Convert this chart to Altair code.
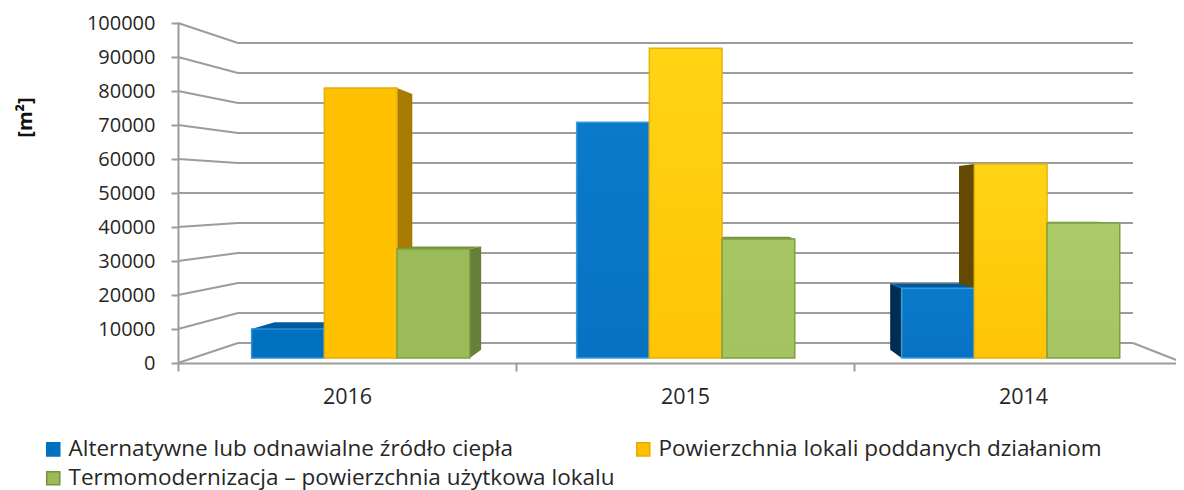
import altair as alt
import pandas as pd

years = ["2016", "2015", "2014"]
series = ["Alternatywne lub odnawialne źródło ciepła",
          "Powierzchnia lokali poddanych działaniom",
          "Termomodernizacja – powierzchnia użytkowa lokalu"]
val_blue = [10000, 70800, 22000]
val_orange = [80900, 92600, 58500]
val_green = [33500, 36500, 41200]
ticks = [0, 10000, 20000, 30000, 40000, 50000, 60000, 70000, 80000, 90000, 100000]

FONT = "Open Sans"
TXT = "#262626"
GRID = "#9c9c9c"
W, H = 998, 340
SLOT = 338.0                 # px per category on the axis
XMAX = W / SLOT
YMAX = 100000
PX = H / YMAX
BASE = 5 / PX                # bars stand slightly in front of the axis
DEPTH = 0.053                # perspective shrink of back faces
VPX = (685 - 178) / SLOT     # vanishing point
VPY = 163 / PX
SPACING = 325 / SLOT
BARW = 72.7 / SLOT
NUDGE = 0.7 / SLOT
WALL_L, WALL_R = 60 / SLOT, 955 / SLOT
WALL_END = 1006 / SLOT

front_fill = {
    (0, 0): ("#0070c0", "#0070c0", "#2f8fd4"), (0, 1): ("#ffc000", "#ffc000", "#e3ad0b"), (0, 2): ("#9bbb59", "#9bbb59", "#7f9e44"),
    (1, 0): ("#0a7acb", "#0872c2", "#3a9ade"), (1, 1): ("#ffd414", "#ffc405", "#e3b40b"), (1, 2): ("#a5c663", "#a3c360", "#7f9e44"),
    (2, 0): ("#0a7acb", "#0872c2", "#3a9ade"), (2, 1): ("#ffd414", "#ffc405", "#e3b40b"), (2, 2): ("#abcb69", "#a5c563", "#7f9e44"),
}
side_col = {("R", 0): "#00508a", ("R", 1): "#a67c00", ("R", 2): "#66803a",
            ("L", 0): "#002e52", ("L", 1): "#644a00", ("L", 2): "#4a5e28"}
top_col = {0: "#005a9e", 1: "#a67c00", 2: "#76923c"}

def back_x(u): return u + DEPTH * (VPX - u)
def back_y(v): return v + DEPTH * (VPY - v)

fronts, sides, tops = [], [], []
vals = [val_blue, val_orange, val_green]
for yi in range(3):
    c = 1.5 + (yi - 1) * SPACING + NUDGE
    for si in range(3):
        l = c + (si - 1.5) * BARW
        r = l + BARW
        v = vals[si][yi]
        fronts.append(dict(yi=yi, si=si, x=l, x2=r, y=v, y2=BASE))
        edge = None
        if r < VPX:
            edge, k = r, "R"
        elif l > VPX:
            edge, k = l, "L"
        if edge is not None:
            fid = f"{yi}-{si}"
            sides.append(dict(f=fid, x=edge, y=v, y2=BASE, c=side_col[(k, si)]))
            sides.append(dict(f=fid, x=back_x(edge), y=back_y(v), y2=back_y(BASE), c=side_col[(k, si)]))
        if v < VPY:
            fid = f"{yi}-{si}"
            tops.append(dict(f=fid, y=v, x=l, x2=r, c=top_col[si]))
            tops.append(dict(f=fid, y=back_y(v), x=back_x(l), x2=back_x(r), c=top_col[si]))

xscale = alt.Scale(domain=[0, XMAX], nice=False, zero=False)
yscale = alt.Scale(domain=[0, YMAX], nice=False)
X = alt.X("x:Q", scale=xscale,
          axis=alt.Axis(values=[0, 1, 2], title=None, grid=False, labelExpr="['2016','2015','2014'][datum.value]",
                        labelOffset=169, labelFlush=False, labelFont=FONT, labelFontSize=21.5, labelColor=TXT, labelPadding=15,
                        domainColor=GRID, domainWidth=2, tickColor=GRID, tickWidth=2, tickSize=8, labelOverlap=False))
Y = alt.Y("y:Q", scale=yscale,
          axis=alt.Axis(values=ticks, format="d", grid=False, title="[m²]", titleFont=FONT, titleFontSize=20, titleFontWeight="bold",
                        titleColor="#111111", titleX=-153, titleY=94, titleAngle=270, titleAlign="center", titleBaseline="middle",
                        labelFont=FONT, labelFontSize=20, labelColor=TXT, labelPadding=16, labelOverlap=False,
                        domainColor=GRID, domainWidth=2, tickColor=GRID, tickWidth=2, tickSize=7))

wall_rows = []
for t in ticks:
    by = (20 / PX) + t * (300 / 340)
    wall_rows.append(dict(x=0, x2=WALL_L, y=t, y2=by))
    wall_rows.append(dict(x=WALL_L, x2=WALL_R, y=by, y2=by))
wall_rows.append(dict(x=WALL_R, x2=WALL_END, y=20 / PX, y2=0))

wall = alt.Chart(pd.DataFrame(wall_rows)).mark_rule(color=GRID, strokeWidth=2).encode(
    x=X, x2="x2:Q", y=Y, y2="y2:Q")

side_layer = alt.Chart(pd.DataFrame(sides)).mark_area(line=False, interpolate="linear").encode(
    x=X, y=Y, y2="y2:Q", detail="f:N", color=alt.Color("c:N", scale=None))
top_layer = alt.Chart(pd.DataFrame(tops)).mark_area(line=False, orient="horizontal", interpolate="linear").encode(
    y=Y, x=X, x2="x2:Q", detail="f:N", color=alt.Color("c:N", scale=None))

front_layers = []
for row in fronts:
    a, b, s = front_fill[(row["yi"], row["si"])]
    grad = alt.LinearGradient(gradient="linear", x1=0, x2=0, y1=0, y2=1,
                              stops=[alt.GradientStop(offset=0, color=a), alt.GradientStop(offset=1, color=b)])
    front_layers.append(alt.Chart(pd.DataFrame([row])).mark_rect(color=grad, stroke=s, strokeWidth=1.5).encode(
        x=X, x2="x2:Q", y=Y, y2="y2:Q"))

leg = alt.Legend(title=None, orient="none", legendX=-136, legendY=415, direction="horizontal", columns=2,
                 symbolType="square", symbolSize=170, symbolStrokeWidth=1.5, symbolOpacity=1, labelFont=FONT, labelFontSize=22.5,
                 labelColor=TXT, labelLimit=800, rowPadding=6, columnPadding=17, labelOffset=4, padding=0)
dom = series
legend_layer = alt.Chart(pd.DataFrame({"s": series})).mark_point(filled=True, shape="square", opacity=0).encode(
    x=alt.value(0), y=alt.value(0),
    fill=alt.Fill("s:N", scale=alt.Scale(domain=dom, range=["#0070c0", "#ffc000", "#9bbb59"]), legend=leg, sort=dom),
    stroke=alt.Stroke("s:N", scale=alt.Scale(domain=dom, range=["#0070c0", "#e5ac00", "#76923c"]), legend=leg, sort=dom))

chart = alt.layer(wall, side_layer, top_layer, *front_layers, legend_layer).resolve_scale(
    color="independent", fill="independent", stroke="independent"
).properties(
    width=W, height=H,
    autosize=alt.AutoSizeParams(type="none"),
    padding={"left": 170, "top": 15, "right": 0, "bottom": 127},
    background="white",
).configure_view(stroke=None)

chart.save("out.html", embed_options={"renderer": "svg", "actions": False})
